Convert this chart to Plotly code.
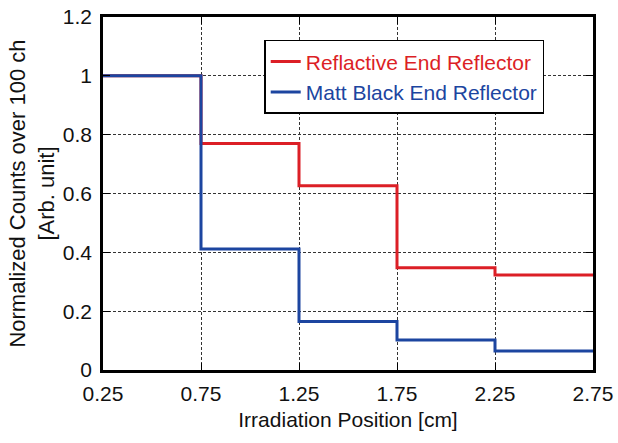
import plotly.graph_objects as go

# Irradiation positions (bin edges) and normalized counts per bin
positions = [0.25, 0.75, 1.25, 1.75, 2.25, 2.75]
reflective = [1.0, 0.770, 0.626, 0.348, 0.323]
matt_black = [1.0, 0.411, 0.165, 0.102, 0.065]

x_ticks = [0.25, 0.75, 1.25, 1.75, 2.25, 2.75]
x_tick_text = ["0.25", "0.75", "1.25", "1.75", "2.25", "2.75"]

RED = "#dc1f26"
BLUE = "#1c45a0"
FONT = "Liberation Sans, Arial, sans-serif"


def step_y(vals):
    # repeat the last value so the final bin extends to the last edge
    return vals + [vals[-1]]


fig = go.Figure()
fig.add_trace(go.Scatter(
    x=positions, y=step_y(reflective), mode="lines", line_shape="hv",
    line=dict(color=RED, width=3),
    name=f"<span style='color:{RED}'>Reflactive End Reflector</span>",
))
fig.add_trace(go.Scatter(
    x=positions, y=step_y(matt_black), mode="lines", line_shape="hv",
    line=dict(color=BLUE, width=3),
    name=f"<span style='color:{BLUE}'>Matt Black End Reflector</span>",
))

axis_common = dict(
    showline=True, linecolor="black", linewidth=2.5, mirror="allticks",
    ticks="inside", ticklen=7, tickwidth=1.2, tickcolor="black",
    showgrid=True, gridcolor="#333333", gridwidth=1, griddash="3px,2px",
    zeroline=False, automargin=False,
    tickfont=dict(family=FONT, size=21, color="#111111"),
)

fig.update_xaxes(
    range=[0.25, 2.75], tickvals=x_ticks, ticktext=x_tick_text,
    ticklabelstandoff=3,
    title=dict(text="Irradiation Position [cm]", font=dict(family=FONT, size=21, color="#111111"), standoff=9),
    **axis_common,
)
fig.update_yaxes(
    range=[0, 1.2], dtick=0.2, tick0=0,
    ticklabelstandoff=4,
    title=dict(text="Normalized Counts over 100 ch<br>[Arb. unit]", font=dict(family=FONT, size=22, color="#111111"), standoff=3),
    **axis_common,
)

fig.update_layout(
    width=618, height=443,
    margin=dict(l=103, r=25, t=17, b=73),
    paper_bgcolor="white", plot_bgcolor="white",
    showlegend=True,
    legend=dict(
        x=0.329, y=0.935, xanchor="left", yanchor="top",
        bgcolor="white", bordercolor="black", borderwidth=1.5,
        font=dict(family=FONT, size=21), tracegroupgap=0,
    ),
)

fig.write_html("out.html")
